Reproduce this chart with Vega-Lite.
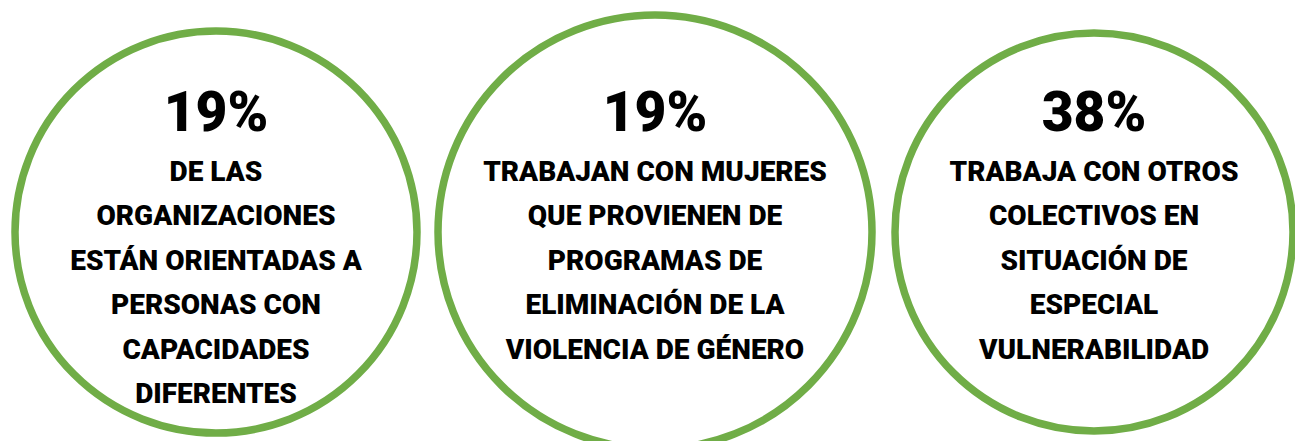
{
  "$schema": "https://vega.github.io/schema/vega-lite/v6.json",
  "width": 1295,
  "height": 441,
  "autosize": {"type": "fit", "contains": "padding"},
  "padding": 0,
  "background": "white",
  "config": {"view": {"stroke": null}},
  "data": {
    "values": [
      {"grupo": "A", "linea": 0, "texto": "19%"},
      {"grupo": "A", "linea": 1, "texto": "DE LAS"},
      {"grupo": "A", "linea": 2, "texto": "ORGANIZACIONES"},
      {"grupo": "A", "linea": 3, "texto": "ESTÁN ORIENTADAS A"},
      {"grupo": "A", "linea": 4, "texto": "PERSONAS CON"},
      {"grupo": "A", "linea": 5, "texto": "CAPACIDADES"},
      {"grupo": "A", "linea": 6, "texto": "DIFERENTES"},
      {"grupo": "B", "linea": 0, "texto": "19%"},
      {"grupo": "B", "linea": 1, "texto": "TRABAJAN CON MUJERES"},
      {"grupo": "B", "linea": 2, "texto": "QUE PROVIENEN DE"},
      {"grupo": "B", "linea": 3, "texto": "PROGRAMAS DE"},
      {"grupo": "B", "linea": 4, "texto": "ELIMINACIÓN DE LA"},
      {"grupo": "B", "linea": 5, "texto": "VIOLENCIA DE GÉNERO"},
      {"grupo": "C", "linea": 0, "texto": "38%"},
      {"grupo": "C", "linea": 1, "texto": "TRABAJA CON OTROS"},
      {"grupo": "C", "linea": 2, "texto": "COLECTIVOS EN"},
      {"grupo": "C", "linea": 3, "texto": "SITUACIÓN DE"},
      {"grupo": "C", "linea": 4, "texto": "ESPECIAL"},
      {"grupo": "C", "linea": 5, "texto": "VULNERABILIDAD"}
    ]
  },
  "encoding": {
    "x": {"field": "grupo", "type": "nominal", "scale": {"type": "point", "domain": ["A", "B", "C"], "range": [212, 1090], "padding": 0}, "axis": null}
  },
  "layer": [
    {
      "transform": [{"filter": "datum.linea == 0"}],
      "mark": {"type": "point", "shape": "circle", "filled": false, "stroke": "#70AD47", "strokeWidth": 7.5, "opacity": 1},
      "encoding": {
        "y": {"datum": 2.15, "type": "quantitative", "scale": {"type": "linear", "domain": [1, 6], "range": [178, 400], "zero": false, "nice": false}, "axis": null},
        "size": {"field": "grupo", "type": "nominal", "scale": {"type": "ordinal", "domain": ["A", "B", "C"], "range": [161604, 188356, 158404]}, "legend": null}
      }
    },
    {
      "transform": [{"filter": "datum.linea == 0"}],
      "mark": {"type": "text", "font": "Roboto", "fontWeight": 900, "fontSize": 55, "align": "center", "baseline": "alphabetic", "dy": -6, "color": "#000000"},
      "encoding": {
        "y": {"field": "linea", "type": "quantitative", "axis": null},
        "yOffset": {"field": "grupo", "type": "nominal", "scale": {"type": "ordinal", "domain": ["A", "B", "C"], "range": [0, -12, 5]}},
        "text": {"field": "texto"}
      }
    },
    {
      "transform": [{"filter": "datum.linea > 0"}],
      "mark": {"type": "text", "font": "Roboto", "fontWeight": 900, "fontSize": 28, "align": "center", "baseline": "alphabetic", "color": "#000000"},
      "encoding": {
        "y": {"field": "linea", "type": "quantitative", "axis": null},
        "yOffset": {"field": "grupo", "type": "nominal", "scale": {"type": "ordinal", "domain": ["A", "B", "C"], "range": [0, -12, 5]}},
        "text": {"field": "texto"}
      }
    }
  ]
}
